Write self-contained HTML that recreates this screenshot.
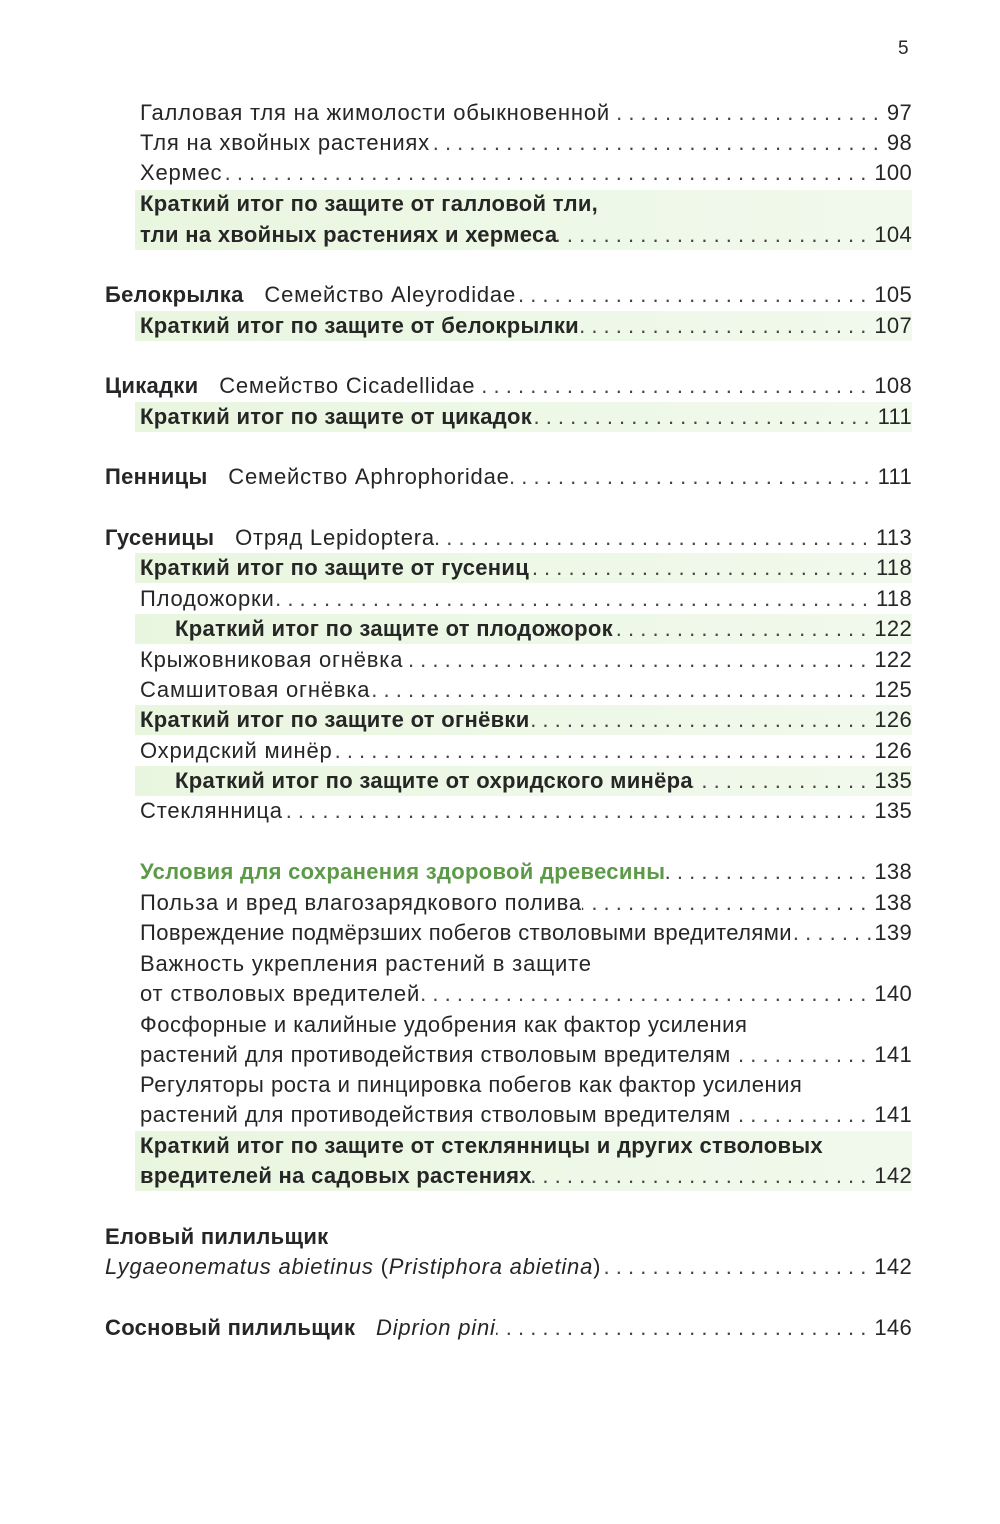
<!DOCTYPE html>
<html><head><meta charset="utf-8"><style>
html,body{margin:0;padding:0;background:#fff;}
body{width:1000px;height:1524px;position:relative;overflow:hidden;font-family:"Liberation Sans","DejaVu Sans",sans-serif;color:#262626;font-size:22px;}
.l{position:absolute;right:88px;height:30px;line-height:30px;display:flex;white-space:nowrap;letter-spacing:0.8px;}
.d{flex:1;overflow:hidden;direction:rtl;white-space:nowrap;color:#444;padding:0 8px 0 6px;letter-spacing:0;font-weight:normal;}
.n{text-align:right;font-weight:normal;letter-spacing:0.3px;}
.b{font-weight:bold;letter-spacing:0.3px;}
.hl{position:absolute;left:135px;width:777px;background:linear-gradient(90deg,#e9f6df,#eef8e8 60%,#f1f9ec);}
.g{color:#5c9a48;font-weight:bold;letter-spacing:0.3px;}
i{font-style:italic;}
</style></head><body>
<div style="position:absolute;left:898px;top:38px;font-size:19px;">5</div>
<div class="hl" style="top:190px;height:60px"></div>
<div class="hl" style="top:311px;height:30px"></div>
<div class="hl" style="top:402px;height:30px"></div>
<div class="hl" style="top:553px;height:30px"></div>
<div class="hl" style="top:614px;height:30px"></div>
<div class="hl" style="top:705px;height:30px"></div>
<div class="hl" style="top:766px;height:30px"></div>
<div class="hl" style="top:1131px;height:60px"></div>

<div class="l" style="left:140px;top:98px"><span>Галловая тля на жимолости обыкновенной</span><span class="d">. . . . . . . . . . . . . . . . . . . . . . . . . . . . . . . . . . . . . . . . . . . . . . . . . . . . . . . . . . . . .</span><span class="n">97</span></div>
<div class="l" style="left:140px;top:128px"><span>Тля на хвойных растениях</span><span class="d">. . . . . . . . . . . . . . . . . . . . . . . . . . . . . . . . . . . . . . . . . . . . . . . . . . . . . . . . . . . . .</span><span class="n">98</span></div>
<div class="l" style="left:140px;top:158px"><span>Хермес</span><span class="d">. . . . . . . . . . . . . . . . . . . . . . . . . . . . . . . . . . . . . . . . . . . . . . . . . . . . . . . . . . . . .</span><span class="n">100</span></div>
<div class="l b" style="left:140px;top:189px"><span>Краткий итог по защите от галловой тли,</span></div>
<div class="l b" style="left:140px;top:220px"><span>тли на хвойных растениях и хермеса</span><span class="d">. . . . . . . . . . . . . . . . . . . . . . . . . . . . . . . . . . . . . . . . . . . . . . . . . . . . . . .</span><span class="n">104</span></div>

<div class="l" style="left:105px;top:280px"><span class="b">Белокрылка</span><span>&nbsp;&nbsp;&nbsp;Семейство Aleyrodidae</span><span class="d">. . . . . . . . . . . . . . . . . . . . . . . . . . . . . . . . . . . . . . . . . . . . . . . . . . . . . . . . .</span><span class="n">105</span></div>
<div class="l b" style="left:140px;top:311px"><span>Краткий итог по защите от белокрылки</span><span class="d">. . . . . . . . . . . . . . . . . . . . . . . . . . . . . . . . . . . . . . . . . . . . . . . . . . . .</span><span class="n">107</span></div>

<div class="l" style="left:105px;top:371px"><span class="b">Цикадки</span><span>&nbsp;&nbsp;&nbsp;Семейство Cicadellidae</span><span class="d">. . . . . . . . . . . . . . . . . . . . . . . . . . . . . . . . . . . . . . . . . . . . . . . . . . . . . . . . .</span><span class="n">108</span></div>
<div class="l b" style="left:140px;top:402px"><span>Краткий итог по защите от цикадок</span><span class="d">. . . . . . . . . . . . . . . . . . . . . . . . . . . . . . . . . . . . . . . . . . . . . . . . . . . .</span><span class="n">111</span></div>

<div class="l" style="left:105px;top:462px"><span class="b">Пенницы</span><span>&nbsp;&nbsp;&nbsp;Семейство Aphrophoridae</span><span class="d">. . . . . . . . . . . . . . . . . . . . . . . . . . . . . . . . . . . . . . . . . . . . . . . . . . . . . . . . .</span><span class="n">111</span></div>

<div class="l" style="left:105px;top:523px"><span class="b">Гусеницы</span><span>&nbsp;&nbsp;&nbsp;Отряд Lepidoptera</span><span class="d">. . . . . . . . . . . . . . . . . . . . . . . . . . . . . . . . . . . . . . . . . . . . . . . . . . . . . . . . .</span><span class="n">113</span></div>
<div class="l b" style="left:140px;top:553px"><span>Краткий итог по защите от гусениц</span><span class="d">. . . . . . . . . . . . . . . . . . . . . . . . . . . . . . . . . . . . . . . . . . . . . . . . . . . .</span><span class="n">118</span></div>
<div class="l" style="left:140px;top:584px"><span>Плодожорки</span><span class="d">. . . . . . . . . . . . . . . . . . . . . . . . . . . . . . . . . . . . . . . . . . . . . . . . . . . . . . . . .</span><span class="n">118</span></div>
<div class="l b" style="left:175px;top:614px"><span>Краткий итог по защите от плодожорок</span><span class="d">. . . . . . . . . . . . . . . . . . . . . . . . . . . . . . . . . . . . . . . . . . . . . . . . . . . .</span><span class="n">122</span></div>
<div class="l" style="left:140px;top:645px"><span>Крыжовниковая огнёвка</span><span class="d">. . . . . . . . . . . . . . . . . . . . . . . . . . . . . . . . . . . . . . . . . . . . . . . . . . . . . . . . .</span><span class="n">122</span></div>
<div class="l" style="left:140px;top:675px"><span>Самшитовая огнёвка</span><span class="d">. . . . . . . . . . . . . . . . . . . . . . . . . . . . . . . . . . . . . . . . . . . . . . . . . . . . . . . . .</span><span class="n">125</span></div>
<div class="l b" style="left:140px;top:705px"><span>Краткий итог по защите от огнёвки</span><span class="d">. . . . . . . . . . . . . . . . . . . . . . . . . . . . . . . . . . . . . . . . . . . . . . . . . . . .</span><span class="n">126</span></div>
<div class="l" style="left:140px;top:736px"><span>Охридский минёр</span><span class="d">. . . . . . . . . . . . . . . . . . . . . . . . . . . . . . . . . . . . . . . . . . . . . . . . . . . . . . . . .</span><span class="n">126</span></div>
<div class="l b" style="left:175px;top:766px"><span>Краткий итог по защите от охридского минёра</span><span class="d">. . . . . . . . . . . . . . . . . . . . . . . . . . . . . . . . . . . . . . . . . . . . . . . . . . . .</span><span class="n">135</span></div>
<div class="l" style="left:140px;top:796px"><span>Стеклянница</span><span class="d">. . . . . . . . . . . . . . . . . . . . . . . . . . . . . . . . . . . . . . . . . . . . . . . . . . . . . . . . .</span><span class="n">135</span></div>

<div class="l" style="left:140px;top:857px"><span class="g">Условия для сохранения здоровой древесины</span><span class="d">. . . . . . . . . . . . . . . . . . . . . . . . . . . . . . . . . . . . . . . . . . . . . . . . . . . . . . . . .</span><span class="n">138</span></div>
<div class="l" style="left:140px;top:888px"><span>Польза и вред влагозарядкового полива</span><span class="d">. . . . . . . . . . . . . . . . . . . . . . . . . . . . . . . . . . . . . . . . . . . . . . . . . . . . . . . . .</span><span class="n">138</span></div>
<div class="l" style="left:140px;top:918px;letter-spacing:0.4px"><span>Повреждение подмёрзших побегов стволовыми вредителями</span><span class="d" style="padding:0 2px 0 6px">. . . . . . . . . . . . . . . . . . . . . . . . . . . . . . . . . . . . . . . . . . . . . . . . . . . . . . . . .</span><span class="n">139</span></div>
<div class="l" style="left:140px;top:949px"><span>Важность укрепления растений в защите</span></div>
<div class="l" style="left:140px;top:979px"><span>от стволовых вредителей</span><span class="d">. . . . . . . . . . . . . . . . . . . . . . . . . . . . . . . . . . . . . . . . . . . . . . . . . . . . . . . . .</span><span class="n">140</span></div>
<div class="l" style="left:140px;top:1010px;letter-spacing:0.5px"><span>Фосфорные и калийные удобрения как фактор усиления</span></div>
<div class="l" style="left:140px;top:1040px;letter-spacing:0.5px"><span>растений для противодействия стволовым вредителям</span><span class="d">. . . . . . . . . . . . . . . . . . . . . . . . . . . . . . . . . . . . . . . . . . . . . . . . . . . . . . . . .</span><span class="n">141</span></div>
<div class="l" style="left:140px;top:1070px;letter-spacing:0.5px"><span>Регуляторы роста и пинцировка побегов как фактор усиления</span></div>
<div class="l" style="left:140px;top:1100px;letter-spacing:0.5px"><span>растений для противодействия стволовым вредителям</span><span class="d">. . . . . . . . . . . . . . . . . . . . . . . . . . . . . . . . . . . . . . . . . . . . . . . . . . . . . . . . .</span><span class="n">141</span></div>
<div class="l b" style="left:140px;top:1131px"><span>Краткий итог по защите от стеклянницы и других стволовых</span></div>
<div class="l b" style="left:140px;top:1161px"><span>вредителей на садовых растениях</span><span class="d">. . . . . . . . . . . . . . . . . . . . . . . . . . . . . . . . . . . . . . . . . . . . . . . . . . . .</span><span class="n">142</span></div>

<div class="l b" style="left:105px;top:1222px"><span>Еловый пилильщик</span></div>
<div class="l" style="left:105px;top:1252px"><span><i>Lygaeonematus abietinus</i> (<i>Pristiphora abietina</i>)</span><span class="d">. . . . . . . . . . . . . . . . . . . . . . . . . . . . . . . . . . . . . . . . . . . . . . . . . . . . . . . . .</span><span class="n">142</span></div>
<div class="l" style="left:105px;top:1313px"><span class="b">Сосновый пилильщик</span><span>&nbsp;&nbsp;&nbsp;<i>Diprion pini</i></span><span class="d">. . . . . . . . . . . . . . . . . . . . . . . . . . . . . . . . . . . . . . . . . . . . . . . . . . . . . . . . .</span><span class="n">146</span></div>
</body></html>
